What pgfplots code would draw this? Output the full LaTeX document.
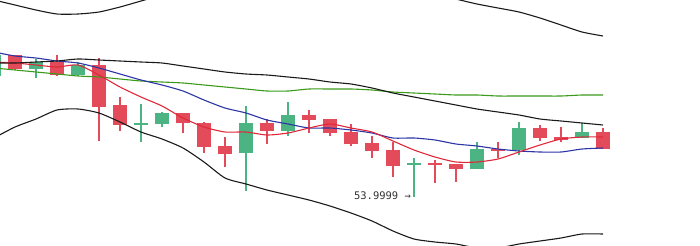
\documentclass[border=0pt]{standalone}
\usepackage{pgfplots}
\usepackage{pgfplotstable}
\pgfplotsset{compat=1.18}
\usepackage{fontspec}
\newfontfamily\monofont{DejaVu Sans Mono}

\definecolor{cgreen}{HTML}{4CB383}
\definecolor{cred}{HTML}{E34B5B}
\definecolor{lblue}{HTML}{2B35A5}
\definecolor{lred}{HTML}{E0283A}
\definecolor{lgreen}{HTML}{3C9A1A}
\definecolor{lblack}{HTML}{1A1A1A}
\definecolor{txt}{HTML}{333333}

% candle values in chart rows (y grows downward)
\pgfplotstableread{
x   bt  bb  wt  wb
-6  55  76  53  78
36  62  69  59  78
78  65  75  62  76
141 123 125 104 142
162 113 124 112 127
246 123 153 106 191
288 115 131 102 136
414 163 165 158 197
477 149 169 142 169
519 128 150 122 155
582 132 138 123 138
}\greencandles

\pgfplotstableread{
x   bt  bb  wt  wb
15  55  69  55  70
57  62  75  55  76
99  65  107 58  141
120 105 125 97  131
183 113 123 113 133
204 123 147 122 153
225 146 154 137 167
267 123 131 119 144
309 115 120 110 133
330 119 133 119 136
351 132 144 124 146
372 143 151 136 158
393 150 166 142 177
435 163 165 160 183
456 164 169 164 182
498 149 151 142 158
540 128 138 125 141
561 137 140 127 142
603 132 149 128 149
}\redcandles

\pgfplotstableread{
x   up  mid lo  blue red green
-6  0   63  138 52   62  68
15  5   63  127 56   63  70
36  10  62  119 58   65  72
57  14  61  110 61   67  74
78  14  59  109 63   65  76
99  12  60  113 68   75  77
120 7   61  122 74   87  79
141 1   62  132 80   97  81
162 -5  63  139 85   106 82
183 -11 66  148 91   118 83
204 -16 69  162 100  127 85
225 -20 72  178 108  132 87
246 -23 74  184 113  132 89
267 -25 75  190 120  135 91
288 -26 77  195 124  133 91
309 -26 79  200 128  128 89
330 -25 82  206 128  124 89
351 -23 84  213 130  128 89
372 -20 88  221 133  132 90
393 -16 93  231 138  141 92
414 -12 97  239 138  150 93
435 -7  101 242 140  157 94
456 -1  105 244 144  162 95
477 4   109 248 146  162 95
498 8   112 248 149  159 96
519 12  115 244 151  152 96
540 18  119 241 152  145 96
561 25  121 238 152  139 96
582 32  123 234 149  137 95
603 36  125 234 148  137 95
}\lines

\begin{document}
\begin{tikzpicture}
\begin{axis}[
  width=700bp, height=245bp, scale only axis,
  xmin=0, xmax=700, ymin=0, ymax=245,
  y dir=reverse,
  hide axis,
  clip=true,
  clip bounding box=upper bound,
]
% wicks
\addplot[draw=none, mark=none,
  error bars/.cd, y dir=plus, y explicit, error mark=none,
  error bar style={draw=cgreen, line width=1.3bp}]
  table[x=x, y=wt, y error plus expr=\thisrow{wb}-\thisrow{wt}] {\greencandles};
\addplot[draw=none, mark=none,
  error bars/.cd, y dir=plus, y explicit, error mark=none,
  error bar style={draw=cred, line width=1.3bp}]
  table[x=x, y=wt, y error plus expr=\thisrow{wb}-\thisrow{wt}] {\redcandles};
% bodies
\addplot[draw=none, mark=none,
  error bars/.cd, y dir=plus, y explicit, error mark=none,
  error bar style={draw=cgreen, line width=14.6bp}]
  table[x=x, y=bt, y error plus expr=\thisrow{bb}-\thisrow{bt}] {\greencandles};
\addplot[draw=none, mark=none,
  error bars/.cd, y dir=plus, y explicit, error mark=none,
  error bar style={draw=cred, line width=14.6bp}]
  table[x=x, y=bt, y error plus expr=\thisrow{bb}-\thisrow{bt}] {\redcandles};
% lines
\addplot[lgreen, line width=1.1bp, smooth, tension=0.4, mark=none] table[x=x, y=green] {\lines};
\addplot[lblue, line width=1.1bp, smooth, tension=0.4, mark=none] table[x=x, y=blue] {\lines};
\addplot[lred, line width=1.1bp, smooth, tension=0.4, mark=none] table[x=x, y=red] {\lines};
\addplot[lblack, line width=1.1bp, smooth, tension=0.4, mark=none] table[x=x, y=up] {\lines};
\addplot[lblack, line width=1.1bp, smooth, tension=0.4, mark=none] table[x=x, y=mid] {\lines};
\addplot[lblack, line width=1.1bp, smooth, tension=0.4, mark=none] table[x=x, y=lo] {\lines};
\node[anchor=east, inner sep=0pt, text=txt, font=\monofont\fontsize{10.5}{12}\selectfont] at (axis cs:411,195.5) {53.9999 →};
\end{axis}
\path (current axis.south west) rectangle (current axis.north east);
\end{tikzpicture}
\end{document}
